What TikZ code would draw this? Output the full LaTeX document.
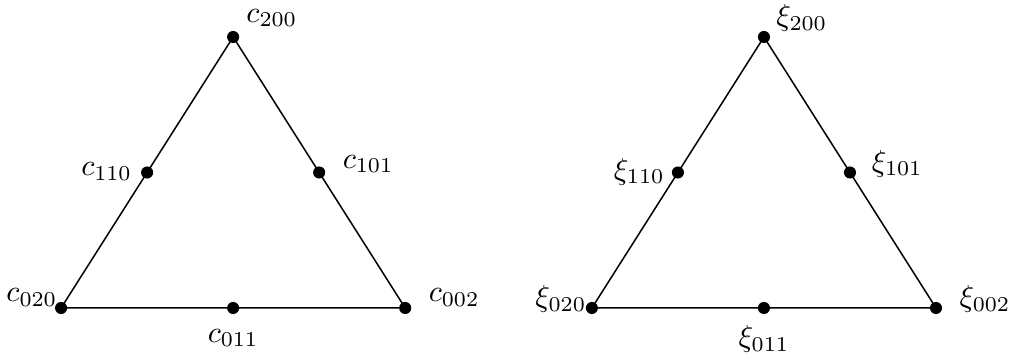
\documentclass[tikz,border=0pt]{standalone}
\usepackage{amsmath}

\begin{document}
\begin{tikzpicture}[scale=1, line width=0.5pt,
    dot/.style={circle, fill=black, inner sep=0pt, minimum size=4pt}]
        \useasboundingbox (-0.71,-0.60) rectangle (11.03,3.58);
        % ==== LEFT TRIANGLE: COEFFICIENTS ====
        \node[dot] (c020) at (0,0) {};
        \node[dot] (c002) at (4,0) {};
        \node[dot] (c200) at (2,3.15) {};
        \node[dot] (c110) at (1,1.575) {};
        \node[dot] (c101) at (3,1.575) {};
        \node[dot] (c011) at (2,0) {};
        \draw (c020.center) -- (c200.center) -- (c002.center) -- cycle;
        \node (lc200) at ([shift={(0.45,0.22)}]c200) {$c_{200}$};
        \node (lc110) at ([shift={(-0.47,0.01)}]c110) {$c_{110}$};
        \node (lc101) at ([shift={(0.57,0.10)}]c101) {$c_{101}$};
        \node (lc020) at ([shift={(-0.34,0.12)}]c020) {$c_{020}$};
        \node (lc002) at ([shift={(0.57,0.12)}]c002) {$c_{002}$};
        \node (lc011) at ([shift={(0,-0.35)}]c011) {$c_{011}$};

        % ==== RIGHT TRIANGLE: NODES ====
        \node[dot] (x020) at (6.17,0) {};
        \node[dot] (x002) at (10.17,0) {};
        \node[dot] (x200) at (8.17,3.15) {};
        \node[dot] (x110) at (7.17,1.575) {};
        \node[dot] (x101) at (9.17,1.575) {};
        \node[dot] (x011) at (8.17,0) {};
        \draw (x020.center) -- (x200.center) -- (x002.center) -- cycle;
        \node (lx200) at ([shift={(0.44,0.22)}]x200) {$\xi_{200}$};
        \node (lx110) at ([shift={(-0.45,0.01)}]x110) {$\xi_{110}$};
        \node (lx101) at ([shift={(0.55,0.10)}]x101) {$\xi_{101}$};
        \node (lx020) at ([shift={(-0.36,0.10)}]x020) {$\xi_{020}$};
        \node (lx002) at ([shift={(0.57,0.10)}]x002) {$\xi_{002}$};
        \node (lx011) at ([shift={(0,-0.36)}]x011) {$\xi_{011}$};
\end{tikzpicture}
\end{document}
